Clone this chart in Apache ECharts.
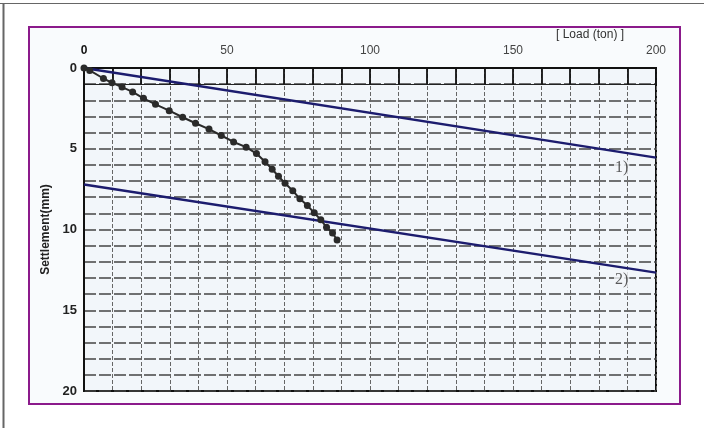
<!DOCTYPE html>
<html>
<head>
<meta charset="utf-8">
<script src="https://cdn.jsdelivr.net/npm/echarts@6/dist/echarts.min.js"></script>
<style>html,body{margin:0;padding:0;background:#fff;}#c{width:704px;height:428px;}</style>
</head>
<body>
<div id="c"></div>
<script>
// Load (ton) vs settlement (mm) measured points
var measured = [
  [0,0],[2,0.15],[6.8,0.65],[9.8,0.92],[13.3,1.18],[17,1.48],[20.8,1.88],[25,2.25],
  [29.8,2.64],[34.5,3.05],[39,3.42],[43.7,3.78],[48,4.18],[52.3,4.58],[56.7,4.9],
  [60.3,5.3],[63.3,5.8],[65.8,6.27],[68,6.7],[70.3,7.14],[73,7.6],[75.5,8.1],
  [78.1,8.52],[80.5,8.96],[82.8,9.4],[84.8,9.86],[86.9,10.22],[88.5,10.65]
];
// Reference lines 1) and 2)
var line1 = [[0,0],[200,5.55]];
var line2 = [[0,7.22],[200,12.67]];
var lineLabels = [
  {name:'1)', value:[188,6.2]},
  {name:'2)', value:[188,13.1]}
];
var xLabelTicks = [0,50,100,150,200];
var yLabelTicks = [0,5,10,15,20];

var chart = echarts.init(document.getElementById('c'));
var gridPos = {left:84, top:68, right:48, bottom:37};
chart.setOption({
  animation:false,
  graphic:[
    {type:'line', shape:{x1:0,y1:3.5,x2:704,y2:3.5}, style:{stroke:'#666',lineWidth:1}, z:-10},
    {type:'line', shape:{x1:3.5,y1:3,x2:3.5,y2:428}, style:{stroke:'#666',lineWidth:2}, z:-10},
    {type:'rect', shape:{x:29,y:27,width:651,height:377}, style:{fill:'#f9fbfd',stroke:'#8b1a8b',lineWidth:2}, z:-10},
    {type:'text', left:556, top:29, z:10, style:{text:'[ Load (ton) ]', font:'12px "Liberation Sans", Arial, sans-serif', fill:'#333'}}
  ],
  grid:[
    Object.assign({show:true, backgroundColor:'#f2f6fa', borderColor:'#111', borderWidth:2}, gridPos),
    {left:84, top:68, right:48, height:16.15, show:false}
  ],
  xAxis:[
    {type:'value', gridIndex:0, position:'top', min:0, max:200, interval:10,
     axisLine:{show:true, lineStyle:{color:'#111', width:2}},
     axisTick:{show:false},
     axisLabel:{margin:11, fontSize:12, color:'#444', fontFamily:'"Liberation Sans", Arial, sans-serif',
       formatter:function(v){ if(xLabelTicks.indexOf(v)<0) return ''; return v===0?'{b|0}':String(v); },
       rich:{b:{fontWeight:'bold', color:'#111', fontSize:12}}},
     splitLine:{show:true, lineStyle:{color:'#666', width:1, type:[4,2]}}
    },
    {type:'value', gridIndex:1, position:'top', min:0, max:200, interval:10,
     axisLine:{show:false}, axisTick:{show:false}, axisLabel:{show:false},
     splitLine:{show:true, lineStyle:{color:'#111', width:1.8}}
    }
  ],
  yAxis:[
    {type:'value', gridIndex:0, inverse:true, min:0, max:20, interval:1,
     name:'Settlement(mm)', nameLocation:'middle', nameRotate:90, nameGap:31,
     nameTextStyle:{fontWeight:'bold', fontSize:12, color:'#222', fontFamily:'"Liberation Sans", Arial, sans-serif'},
     axisLine:{show:true, lineStyle:{color:'#111', width:2}},
     axisTick:{show:false},
     axisLabel:{margin:7, fontSize:13, fontWeight:'bold', color:'#222', fontFamily:'"Liberation Sans", Arial, sans-serif',
       formatter:function(v){ return yLabelTicks.indexOf(v)<0 ? '' : String(v); }},
     splitLine:{show:true, lineStyle:{color:'#444', width:1.5, type:[12,3]}}
    },
    {type:'value', gridIndex:1, inverse:true, min:0, max:1, interval:1,
     axisLine:{show:false}, axisTick:{show:false}, axisLabel:{show:false},
     splitLine:{show:true, lineStyle:{color:'#222', width:1.2}}
    }
  ],
  series:[
    {type:'line', name:'1)', xAxisIndex:0, yAxisIndex:0, data:line1, symbol:'none',
     lineStyle:{color:'#1c1c6e', width:2.5}, z:3},
    {type:'line', name:'2)', xAxisIndex:0, yAxisIndex:0, data:line2, symbol:'none',
     lineStyle:{color:'#1c1c6e', width:2.5}, z:3},
    {type:'line', name:'measured', xAxisIndex:0, yAxisIndex:0, data:measured,
     symbol:'circle', symbolSize:7, showSymbol:true,
     itemStyle:{color:'#2a2a2a'}, lineStyle:{color:'#2a2a2a', width:2}, z:4},
    {type:'scatter', xAxisIndex:0, yAxisIndex:0, data:lineLabels, symbolSize:1,
     itemStyle:{color:'rgba(0,0,0,0)'},
     label:{show:true, position:'inside', formatter:'{b}', fontSize:16,
       fontFamily:'"Liberation Serif", "DejaVu Serif", serif', color:'#333',
       backgroundColor:'#f2f6fa', padding:[0,1]}, z:5}
  ]
});
</script>
</body>
</html>
